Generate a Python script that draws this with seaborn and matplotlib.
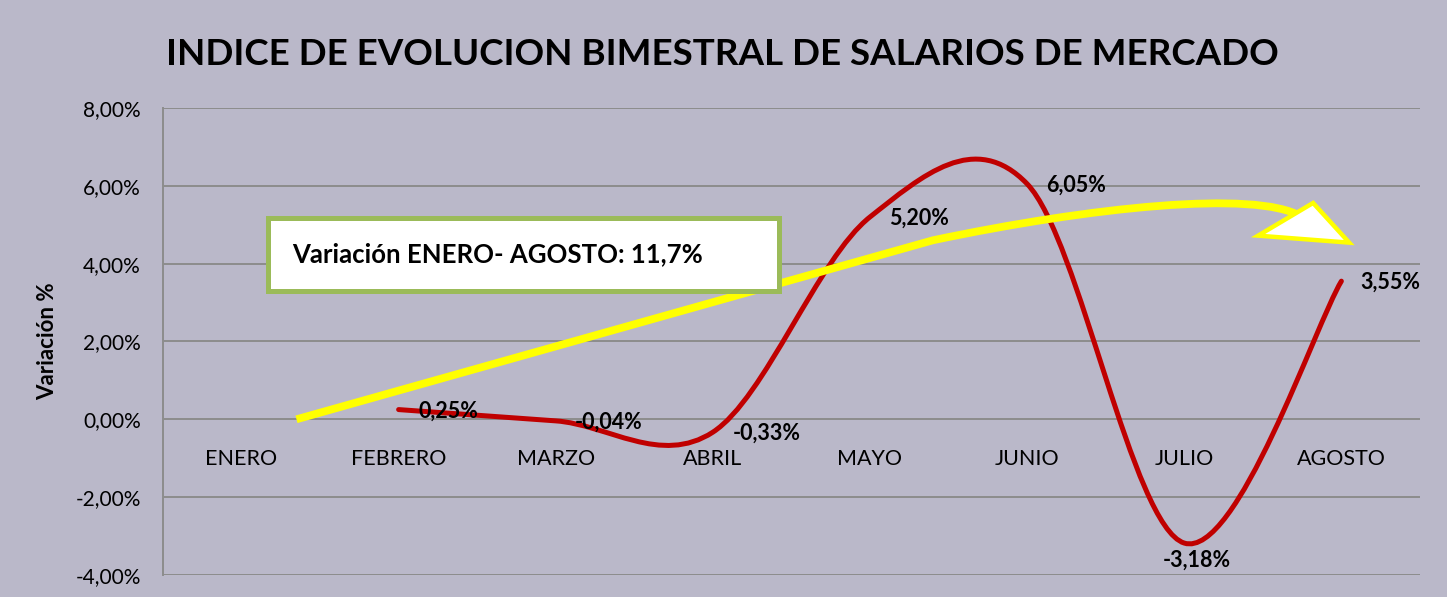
import numpy as np
import matplotlib
matplotlib.use("Agg")
import matplotlib.pyplot as plt
import seaborn as sns
from matplotlib.path import Path
from matplotlib.patches import PathPatch, Polygon, Rectangle

# datos del grafico
meses = ["ENERO", "FEBRERO", "MARZO", "ABRIL", "MAYO", "JUNIO", "JULIO", "AGOSTO"]
variacion = [np.nan, 0.25, -0.04, -0.33, 5.20, 6.05, -3.18, 3.55]
etiquetas = ["", "0,25%", "-0,04%", "-0,33%", "5,20%", "6,05%", "-3,18%", "3,55%"]
yticks = [-4, -2, 0, 2, 4, 6, 8]
ytick_labels = ["-4,00%", "-2,00%", "0,00%", "2,00%", "4,00%", "6,00%", "8,00%"]
titulo = "INDICE DE EVOLUCION BIMESTRAL DE SALARIOS DE MERCADO"
texto_caja = "Variación ENERO- AGOSTO: 11,7%"

fondo = "#BAB8C9"
sns.set_style("white", {"axes.facecolor": fondo, "figure.facecolor": fondo})
plt.rcParams["font.family"] = ["Lato", "DejaVu Sans"]
plt.rcParams["text.color"] = "black"
plt.rcParams["xtick.color"] = "black"
plt.rcParams["ytick.color"] = "black"
plt.rcParams["axes.labelcolor"] = "black"

fig = plt.figure(figsize=(14.47, 5.97), dpi=100)
ax = fig.add_axes([0.1126, 0.0369, 0.8687, 0.7822])
ax.set_facecolor(fondo)

# eje x cruzando en 0 (antes de poner las etiquetas, porque reinicia los ticks)
ax.spines["bottom"].set_position(("data", 0))
ax.spines["bottom"].set_visible(False)
for s in ["top", "right"]:
    ax.spines[s].set_visible(False)

# linea suavizada (bezier tipo Excel) a partir de los valores
x = np.arange(len(meses), dtype=float)
pts = [(xi, yi) for xi, yi in zip(x, variacion) if not np.isnan(yi)]
verts = [pts[0]]
codes = [Path.MOVETO]
n = len(pts)
for i in range(n - 1):
    p0 = np.array(pts[i - 1] if i > 0 else pts[i])
    p1 = np.array(pts[i])
    p2 = np.array(pts[i + 1])
    p3 = np.array(pts[i + 2] if i + 2 < n else pts[i + 1])
    c1 = p1 + (p2 - p0) / 6.0
    c2 = p2 - (p3 - p1) / 6.0
    verts += [tuple(c1), tuple(c2), tuple(p2)]
    codes += [Path.CURVE4] * 3
ax.add_patch(PathPatch(Path(verts, codes), facecolor="none",
                       edgecolor="#C00000", lw=3.6, capstyle="round", zorder=3))

# etiquetas de datos
for xi, yi, lab in zip(x, variacion, etiquetas):
    if np.isnan(yi):
        continue
    if yi < -3:
        ax.annotate(lab, (xi, yi), xytext=(9, -12), textcoords="offset points",
                    ha="center", va="center", fontsize=15.5, fontweight="bold", zorder=6)
    else:
        ax.annotate(lab, (xi, yi), xytext=(14, -1), textcoords="offset points",
                    ha="left", va="center", fontsize=15.5, fontweight="bold", zorder=6)

# flecha amarilla
flecha = Path([(0.35, 0.0), (4.4, 4.6), (5.4, 5.45), (6.45, 5.9), (6.74, 5.22)],
              [Path.MOVETO, Path.LINETO, Path.CURVE4, Path.CURVE4, Path.CURVE4])
ax.add_patch(PathPatch(flecha, facecolor="none", edgecolor="#FFFF00", lw=5.6,
                       capstyle="butt", joinstyle="round", zorder=4))
ax.add_patch(Polygon([(6.47, 4.72), (6.82, 5.56), (7.05, 4.54)], closed=True,
                     facecolor="white", edgecolor="#FFFF00", lw=3.2, zorder=5))

# caja de texto
ax.add_patch(Rectangle((0.0835, 0.608), 0.4065, 0.156, transform=ax.transAxes,
                       facecolor="white", edgecolor="#9BBB59", lw=3.6, zorder=6))
ax.text(0.1026, 0.687, texto_caja, transform=ax.transAxes, ha="left", va="center",
        fontsize=18.5, fontweight="bold", zorder=7)

# ejes
ax.set_xlim(-0.5, len(meses) - 0.5)
ax.set_ylim(-4, 8)
ax.set_yticks(yticks)
ax.set_yticklabels(ytick_labels)
ax.set_xticks(x)
ax.set_xticklabels(meses)
ax.grid(axis="y", color="#8C8C8C", lw=1.4)
ax.grid(axis="x", visible=False)
ax.set_axisbelow(True)
ax.spines["left"].set_color("#8C8C8C")
ax.spines["left"].set_linewidth(1.4)
ax.tick_params(axis="x", length=0, pad=21.5, labelsize=15.5)
ax.tick_params(axis="y", length=0, pad=16, labelsize=15)
ax.set_ylabel("Variación %", fontsize=16, fontweight="bold")
ax.yaxis.set_label_coords(-0.083, 0.5)

fig.text(0.499, 0.908, titulo, ha="center", va="center", fontsize=26.5, fontweight="bold")

fig.savefig("out.png", dpi=100, facecolor=fondo)
